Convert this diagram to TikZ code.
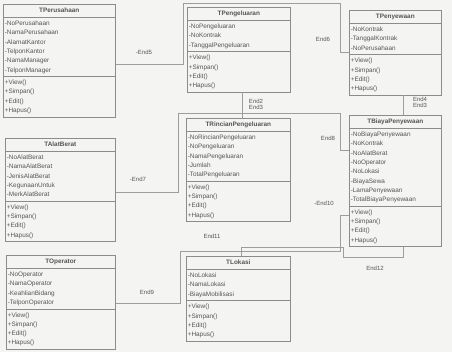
\documentclass[tikz,border=0pt]{standalone}
\usepackage{fontspec}
\setmainfont{Liberation Sans}
\usetikzlibrary{shapes.multipart}
\definecolor{ln}{HTML}{8C8C8C}
\definecolor{tx}{HTML}{555555}
\definecolor{bg}{HTML}{F4F4F2}
\tikzset{
 cls/.style={rectangle split, rectangle split parts=3, draw=ln, line width=0.6pt,
   anchor=north west, text width=#1, align=left, inner xsep=1.5pt, inner ysep=1.3pt,
   font=\fontsize{6.4}{9.3}\selectfont, text=tx},
 conn/.style={draw=ln!85, line width=0.5pt},
 lbl/.style={font=\fontsize{6}{7}\selectfont, text=tx, inner sep=0pt}
}
\newcommand\hdr[1]{\hbox to\hsize{\hfil\textbf{\rule[-3pt]{0pt}{10pt}#1}\hfil}}
\newcommand\meth{\strut+View()\\\strut+Simpan()\\\strut+Edit()\\\strut+Hapus()}
\begin{document}
\begin{tikzpicture}[x=1pt,y=-1pt]
\fill[bg] (0,0) rectangle (452,352);
\useasboundingbox (0,0) rectangle (452,352);
% classes
\node[cls=109pt] (per) at (3,4) {\hdr{TPerusahaan}
 \nodepart{two}\strut-NoPerusahaan\\\strut-NamaPerusahaan\\\strut-AlamatKantor\\\strut-TelponKantor\\\strut-NamaManager\\\strut-TelponManager
 \nodepart{three}\meth};
\node[cls=100pt] (pgl) at (187,7) {\hdr{TPengeluaran}
 \nodepart{two}\strut-NoPengeluaran\\\strut-NoKontrak\\\strut-TanggalPengeluaran
 \nodepart{three}\meth};
\node[cls=89pt] (pny) at (349,10) {\hdr{TPenyewaan}
 \nodepart{two}\strut-NoKontrak\\\strut-TanggalKontrak\\\strut-NoPerusahaan
 \nodepart{three}\meth};
\node[cls=107pt] (alat) at (5,138) {\hdr{TAlatBerat}
 \nodepart{two}\strut-NoAlatBerat\\\strut-NamaAlatBerat\\\strut-JenisAlatBerat\\\strut-KegunaanUntuk\\\strut-MerkAlatBerat
 \nodepart{three}\meth};
\node[cls=101pt] (rinc) at (186,118) {\hdr{TRincianPengeluaran}
 \nodepart{two}\strut-NoRincianPengeluaran\\\strut-NoPengeluaran\\\strut-NamaPengeluaran\\\strut-Jumlah\\\strut-TotalPengeluaran
 \nodepart{three}\meth};
\node[cls=89pt] (biaya) at (349,115) {\hdr{TBiayaPenyewaan}
 \nodepart{two}\strut-NoBiayaPenyewaan\\\strut-NoKontrak\\\strut-NoAlatBerat\\\strut-NoOperator\\\strut-NoLokasi\\\strut-BiayaSewa\\\strut-LamaPenyewaan\\\strut-TotalBiayaPenyewaan
 \nodepart{three}\meth};
\node[cls=106pt] (oper) at (6,255) {\hdr{TOperator}
 \nodepart{two}\strut-NoOperator\\\strut-NamaOperator\\\strut-KeahlianBidang\\\strut-TelponOperator
 \nodepart{three}\meth};
\node[cls=101pt] (lok) at (186,256) {\hdr{TLokasi}
 \nodepart{two}\strut-NoLokasi\\\strut-NamaLokasi\\\strut-BiayaMobilisasi
 \nodepart{three}\meth};
% connectors
\draw[conn] ([yshift=-60pt]per.north east) -| (183,3) -| (340,52) -- ([yshift=-42pt]pny.north west);
\draw[conn] (242,0 |- pgl.south) -- (242,0 |- rinc.north);
\draw[conn] (403,0 |- pny.south) -- (403,0 |- biaya.north);
\draw[conn] ([yshift=-54pt]alat.north east) -| (178,113) -| (340,150) -- ([yshift=-35pt]biaya.north west);
\draw[conn] ([yshift=-48pt]oper.north east) -| (180,251) -| (340,215) -- ([yshift=-100pt]biaya.north west);
\draw[conn] (241,0 |- lok.north) -- (241,247) -| (343,257) -| (403,0 |- biaya.south);
% labels
\node[lbl] (e5) at (144,52) {-End5};
\node[lbl] (e6) at (323,39) {End6};
\node[lbl] (e2) at (256,101) {End2};
\node[lbl] (e3a) at (256,107) {End3};
\node[lbl] (e4) at (420,99) {End4};
\node[lbl] (e3b) at (420,105) {End3};
\node[lbl] (e7) at (138,179) {-End7};
\node[lbl] (e8) at (328,138) {End8};
\node[lbl] (e10) at (324,203) {-End10};
\node[lbl] (e11) at (212,236) {End11};
\node[lbl] (e9) at (147,292) {End9};
\node[lbl] (e12) at (375,268) {End12};
\end{tikzpicture}
\end{document}
